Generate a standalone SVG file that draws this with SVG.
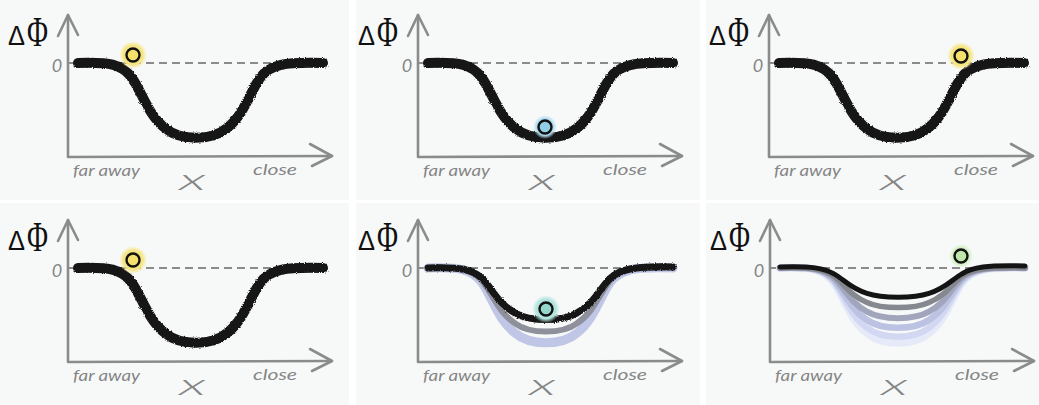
<svg xmlns="http://www.w3.org/2000/svg" width="1039" height="405" viewBox="0 0 1039 405">
<style>
.bg{fill:#f7f9f9}
.axis{fill:none;stroke:#8b8b8b;stroke-width:2.6;stroke-linecap:round;stroke-linejoin:round}
.dash{fill:none;stroke:#8b8b8b;stroke-width:2.2;stroke-dasharray:8 5}
.well{fill:none;stroke:#141414;stroke-width:10;stroke-linecap:round}
.lbl{font-family:Lato,"Liberation Sans",Arial,sans-serif;font-style:italic;font-weight:400;fill:#858585}
.xl{font-family:Lato,"Liberation Sans",Arial,sans-serif;font-style:italic;font-weight:300;fill:#858585}
.dl{font-family:"Liberation Sans",Arial,sans-serif;fill:#111}
.pl{font-family:"Liberation Serif","Times New Roman",serif;fill:#111}
.ball{stroke:#111;stroke-width:2.4}
</style>
<defs>
<filter id="rough" x="-5%" y="-20%" width="110%" height="140%">
<feTurbulence type="fractalNoise" baseFrequency="0.9" numOctaves="2" seed="3" result="n"/>
<feDisplacementMap in="SourceGraphic" in2="n" scale="3" xChannelSelector="R" yChannelSelector="G"/>
</filter>
<radialGradient id="gy"><stop offset="0" stop-color="#f5e06a"/><stop offset="0.7" stop-color="#f6e585"/><stop offset="1" stop-color="#f7e88f" stop-opacity="0"/></radialGradient>
<radialGradient id="gb"><stop offset="0" stop-color="#a2d7ee"/><stop offset="0.7" stop-color="#aedcf0"/><stop offset="1" stop-color="#b5e0f2" stop-opacity="0"/></radialGradient>
<radialGradient id="gt"><stop offset="0" stop-color="#a8e0d9"/><stop offset="0.7" stop-color="#b3e5df"/><stop offset="1" stop-color="#b8e7e1" stop-opacity="0"/></radialGradient>
<radialGradient id="gg"><stop offset="0" stop-color="#cdeebc"/><stop offset="0.7" stop-color="#d3efc4"/><stop offset="1" stop-color="#d6f0c8" stop-opacity="0"/></radialGradient>
<g id="frame">
<line class="dash" x1="68" y1="63" x2="322" y2="63"/>
<path class="axis" d="M68,15 L68,157 L332,156"/>
<path class="axis" d="M58,36 L68,15 L78,35"/>
<path class="axis" d="M310,144 L332,156 L312,166"/>
</g>
</defs>
<rect width="1039" height="405" fill="#ffffff"/>
<rect class="bg" x="0" y="0" width="349" height="200"/>
<rect class="bg" x="356" y="0" width="344" height="200"/>
<rect class="bg" x="706" y="0" width="333" height="200"/>
<rect class="bg" x="0" y="203" width="349" height="202"/>
<rect class="bg" x="356" y="203" width="344" height="202"/>
<rect class="bg" x="706" y="203" width="333" height="202"/>

<g id="panel1">
<use href="#frame"/>
<g id="p1-labels">
<text class="dl" x="8" y="45" font-size="27" textLength="17" lengthAdjust="spacingAndGlyphs">Δ</text>
<text class="pl" transform="translate(27,46) scale(1,1.4)" font-size="30" textLength="21" lengthAdjust="spacingAndGlyphs">Φ</text>
<text class="lbl" x="57" y="72" font-size="18" text-anchor="middle">0</text>
<text class="lbl" x="73" y="176" font-size="16" textLength="67" lengthAdjust="spacingAndGlyphs">far away</text>
<text class="xl" x="179" y="190" font-size="30" textLength="27" lengthAdjust="spacingAndGlyphs">x</text>
<text class="lbl" x="253" y="175" font-size="16" textLength="44" lengthAdjust="spacingAndGlyphs">close</text>
</g>
<g id="p1-curve"><path class="well" filter="url(#rough)" d="M78,63 C110,62 122,64 132,78 C142,92 148,115 165,128 C180,141 212,141 227,128 C244,115 250,92 260,78 C270,64 285,62 323,63"/></g>
<g id="p1-ball"><circle cx="133" cy="55" r="14" fill="url(#gy)"/><circle class="ball" cx="133" cy="55" r="6.5" fill="#f5e06c"/></g>
</g>

<g id="panel2" transform="translate(350,0)">
<use href="#frame"/>
<g id="p2-labels">
<text class="dl" x="8" y="45" font-size="27" textLength="17" lengthAdjust="spacingAndGlyphs">Δ</text>
<text class="pl" transform="translate(27,46) scale(1,1.4)" font-size="30" textLength="21" lengthAdjust="spacingAndGlyphs">Φ</text>
<text class="lbl" x="57" y="72" font-size="18" text-anchor="middle">0</text>
<text class="lbl" x="73" y="176" font-size="16" textLength="67" lengthAdjust="spacingAndGlyphs">far away</text>
<text class="xl" x="179" y="190" font-size="30" textLength="27" lengthAdjust="spacingAndGlyphs">x</text>
<text class="lbl" x="253" y="175" font-size="16" textLength="44" lengthAdjust="spacingAndGlyphs">close</text>
</g>
<g id="p2-curve"><path class="well" filter="url(#rough)" d="M78,63 C110,62 122,64 132,78 C142,92 148,115 165,128 C180,141 212,141 227,128 C244,115 250,92 260,78 C270,64 285,62 323,63"/></g>
<g id="p2-ball"><circle cx="195" cy="127" r="12" fill="url(#gb)"/><circle class="ball" cx="195" cy="127" r="6.5" fill="#8fd0e6"/></g>
</g>

<g id="panel3" transform="translate(701,0)">
<use href="#frame"/>
<g id="p3-labels">
<text class="dl" x="8" y="45" font-size="27" textLength="17" lengthAdjust="spacingAndGlyphs">Δ</text>
<text class="pl" transform="translate(27,46) scale(1,1.4)" font-size="30" textLength="21" lengthAdjust="spacingAndGlyphs">Φ</text>
<text class="lbl" x="57" y="72" font-size="18" text-anchor="middle">0</text>
<text class="lbl" x="73" y="176" font-size="16" textLength="67" lengthAdjust="spacingAndGlyphs">far away</text>
<text class="xl" x="179" y="190" font-size="30" textLength="27" lengthAdjust="spacingAndGlyphs">x</text>
<text class="lbl" x="253" y="175" font-size="16" textLength="44" lengthAdjust="spacingAndGlyphs">close</text>
</g>
<g id="p3-curve"><path class="well" filter="url(#rough)" d="M78,63 C110,62 122,64 132,78 C142,92 148,115 165,128 C180,141 212,141 227,128 C244,115 250,92 260,78 C270,64 285,62 323,63"/></g>
<g id="p3-ball"><circle cx="260" cy="56" r="14" fill="url(#gy)"/><circle class="ball" cx="260" cy="56" r="6.5" fill="#f5e06c"/></g>
</g>

<g id="panel4" transform="translate(0,205)">
<use href="#frame"/>
<g id="p4-labels">
<text class="dl" x="8" y="45" font-size="27" textLength="17" lengthAdjust="spacingAndGlyphs">Δ</text>
<text class="pl" transform="translate(27,46) scale(1,1.4)" font-size="30" textLength="21" lengthAdjust="spacingAndGlyphs">Φ</text>
<text class="lbl" x="57" y="72" font-size="18" text-anchor="middle">0</text>
<text class="lbl" x="73" y="176" font-size="16" textLength="67" lengthAdjust="spacingAndGlyphs">far away</text>
<text class="xl" x="179" y="190" font-size="30" textLength="27" lengthAdjust="spacingAndGlyphs">x</text>
<text class="lbl" x="253" y="175" font-size="16" textLength="44" lengthAdjust="spacingAndGlyphs">close</text>
</g>
<g id="p4-curve"><path class="well" filter="url(#rough)" d="M78,63 C110,62 122,64 132,78 C142,92 148,115 165,128 C180,141 212,141 227,128 C244,115 250,92 260,78 C270,64 285,62 323,63"/></g>
<g id="p4-ball"><circle cx="133" cy="55" r="14" fill="url(#gy)"/><circle class="ball" cx="133" cy="55" r="6.5" fill="#f5e06c"/></g>
</g>

<g id="panel5" transform="translate(350,205)">
<use href="#frame"/>
<g id="p5-labels">
<text class="dl" x="8" y="45" font-size="27" textLength="17" lengthAdjust="spacingAndGlyphs">Δ</text>
<text class="pl" transform="translate(27,46) scale(1,1.4)" font-size="30" textLength="21" lengthAdjust="spacingAndGlyphs">Φ</text>
<text class="lbl" x="57" y="72" font-size="18" text-anchor="middle">0</text>
<text class="lbl" x="73" y="176" font-size="16" textLength="67" lengthAdjust="spacingAndGlyphs">far away</text>
<text class="xl" x="179" y="190" font-size="30" textLength="27" lengthAdjust="spacingAndGlyphs">x</text>
<text class="lbl" x="253" y="175" font-size="16" textLength="44" lengthAdjust="spacingAndGlyphs">close</text>
</g>
<g id="p5-curves">
<path class="well" style="stroke:#c0c6e6;stroke-width:9" d="M78,63 C110,62 122,64 132,78 C142,92 148,115 165,128 C180,141 212,141 227,128 C244,115 250,92 260,78 C270,64 285,62 323,63"/>
<path class="well" style="stroke:#8e909b;stroke-width:6" d="M78,63 C110,62 122,64 132,75.8 C142,87.7 148,107.2 165,118.3 C180,129.3 212,129.3 227,118.3 C244,107.2 250,87.7 260,75.8 C270,64 285,62 323,63"/>
<path class="well" filter="url(#rough)" style="stroke-width:7" d="M78,63 C110,62 122,64 132,73.4 C142,83 148,98.9 165,107.9 C180,116.8 212,116.8 227,107.9 C244,98.9 250,83 260,73.4 C270,64 285,61 323,62"/>
</g>
<g id="p5-ball"><circle cx="196" cy="104" r="14" fill="url(#gt)"/><circle class="ball" cx="196" cy="104" r="6.5" fill="#95d6cc"/></g>
</g>

<g id="panel6" transform="translate(702,205)">
<use href="#frame"/>
<g id="p6-labels">
<text class="dl" x="8" y="45" font-size="27" textLength="17" lengthAdjust="spacingAndGlyphs">Δ</text>
<text class="pl" transform="translate(27,46) scale(1,1.4)" font-size="30" textLength="21" lengthAdjust="spacingAndGlyphs">Φ</text>
<text class="lbl" x="57" y="72" font-size="18" text-anchor="middle">0</text>
<text class="lbl" x="73" y="176" font-size="16" textLength="67" lengthAdjust="spacingAndGlyphs">far away</text>
<text class="xl" x="179" y="190" font-size="30" textLength="27" lengthAdjust="spacingAndGlyphs">x</text>
<text class="lbl" x="253" y="175" font-size="16" textLength="44" lengthAdjust="spacingAndGlyphs">close</text>
</g>
<g id="p6-curves">
<path class="well" style="stroke:#e6eaf8;stroke-width:8" d="M78,63 C110,62 122,64 132,78 C142,92 148,115 165,128 C180,141 212,141 227,128 C244,115 250,92 260,78 C270,64 285,62 323,63"/>
<path class="well" style="stroke:#d2d8f1;stroke-width:6.5" d="M78,63 C110,62 122,64 132,76.8 C142,89.7 148,110.8 165,122.8 C180,134.8 212,134.8 227,122.8 C244,110.8 250,89.7 260,76.8 C270,64 285,62 323,63"/>
<path class="well" style="stroke:#bbc2e2;stroke-width:6.5" d="M78,63 C110,62 122,64 132,75 C142,86.2 148,104.6 165,115 C180,125.4 212,125.4 227,115 C244,104.6 250,86.2 260,75 C270,64 285,62 323,63"/>
<path class="well" style="stroke:#a2a6bd;stroke-width:6" d="M78,63 C110,62 122,64 132,73.1 C142,82.4 148,97.8 165,106.6 C180,115.3 212,115.3 227,106.6 C244,97.8 250,82.4 260,73.1 C270,64 285,62 323,63"/>
<path class="well" style="stroke:#86888f;stroke-width:5.5" d="M78,63 C110,62 122,64 132,71 C142,78.4 148,90.6 165,97.5 C180,104.3 212,104.3 227,97.5 C244,90.6 250,78.4 260,71 C270,64 285,62 323,63"/>
<path class="well" style="stroke-width:5" d="M78,62 C110,61 122,63 132,68.9 C142,74.3 148,83.3 165,88.4 C180,93.4 212,93.4 227,88.4 C244,83.3 250,74.3 260,68.9 C270,62 285,60 323,61"/>
</g>
<g id="p6-ball"><circle cx="259" cy="51" r="12" fill="url(#gg)"/><circle class="ball" cx="259" cy="51" r="6.5" fill="#bfe6aa"/></g>
</g>
</svg>
